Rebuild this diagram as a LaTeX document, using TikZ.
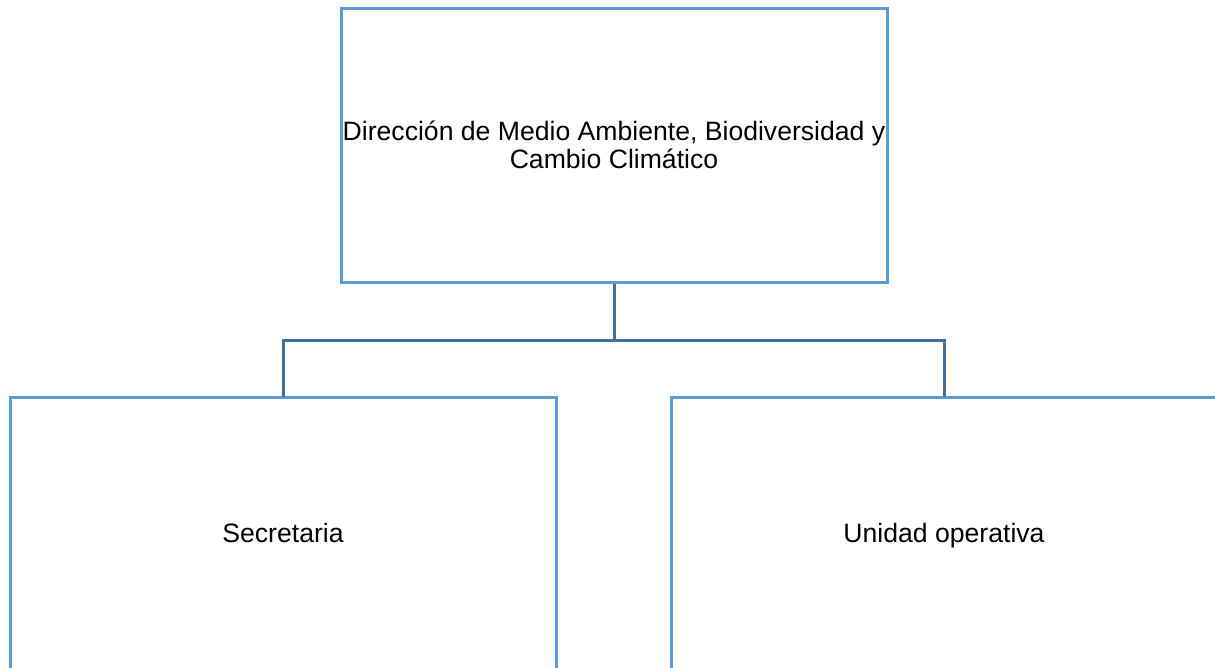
\documentclass[tikz,border=0pt]{standalone}
\usepackage{fontspec}
\setmainfont{Liberation Sans}
\definecolor{boxblue}{HTML}{5B9BD5}
\definecolor{linkblue}{HTML}{41719C}
\begin{document}
\begin{tikzpicture}[x=1pt,y=-1pt,
  txt/.style={font=\fontsize{26.6}{27.4}\selectfont},
  orgbox/.style={draw=boxblue,line width=3pt,fill=white,inner sep=0pt,txt,align=center},
  link/.style={draw=linkblue,line width=3pt}]
\clip (0,0) rectangle (1215,667);
\useasboundingbox (0,0) rectangle (1215,667);
\node[orgbox,minimum width=546pt,minimum height=274pt] (dir) at (614,145)
  {Dirección de Medio Ambiente, Biodiversidad y\\Cambio Climático};
\node[orgbox,minimum width=546pt,minimum height=300pt] (sec) at (283,547) {};
\node[txt,anchor=base] (sect) at (283,542) {Secretaria};
\node[orgbox,minimum width=546pt,minimum height=300pt] (uni) at (944,547) {};
\node[txt,anchor=base] (unit) at (944,542) {Unidad operativa};
\coordinate (j) at (614,340);
\draw[link] (dir.south) -- (j);
\draw[link,line cap=rect] (sec.north) |- (j) -| (uni.north);
\end{tikzpicture}
\end{document}
